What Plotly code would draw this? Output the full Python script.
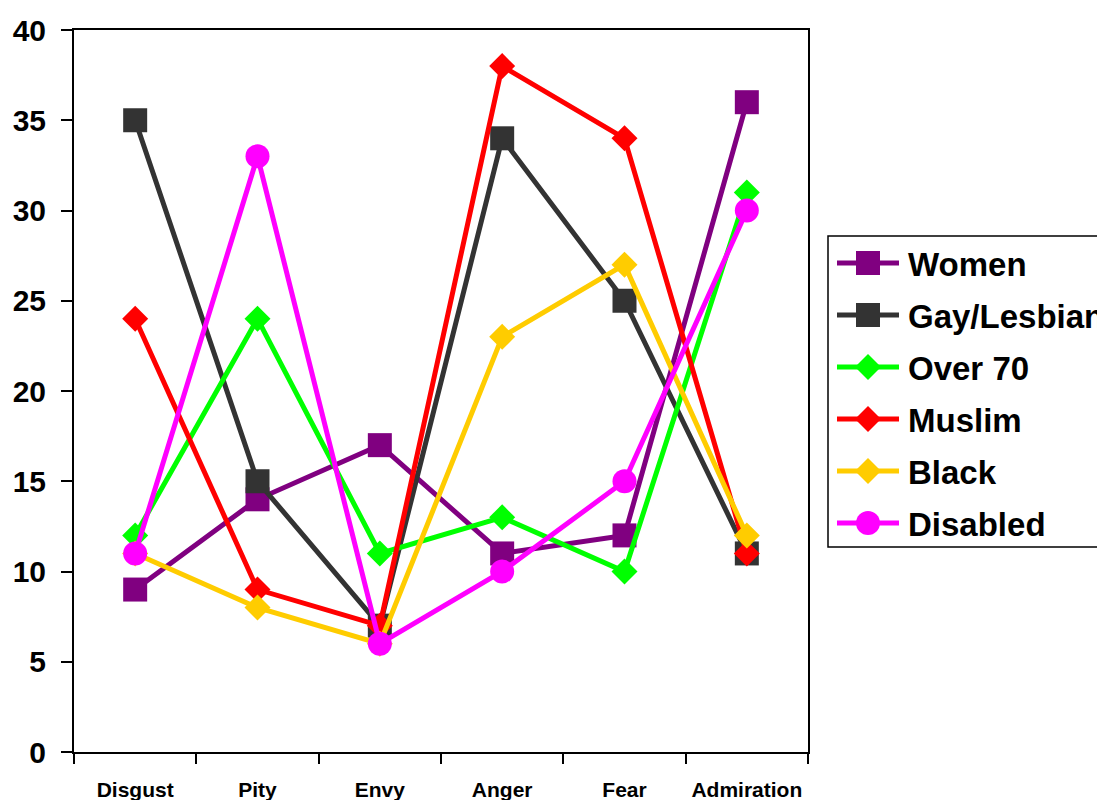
import plotly.graph_objects as go

# Emotion categories on the x axis
emotions = ["Disgust", "Pity", "Envy", "Anger", "Fear", "Admiration"]

# Percentages per group
women = [9, 14, 17, 11, 12, 36]
gay_lesbian = [35, 15, 7, 34, 25, 11]
over_70 = [12, 24, 11, 13, 10, 31]
muslim = [24, 9, 7, 38, 34, 11]
black = [11, 8, 6, 23, 27, 12]
disabled = [11, 33, 6, 10, 15, 30]

y_ticks = [0, 5, 10, 15, 20, 25, 30, 35, 40]

series = [
    ("Women", women, "#800080", "square", 24),
    ("Gay/Lesbian", gay_lesbian, "#333333", "square", 24),
    ("Over 70", over_70, "#00FF00", "diamond", 20),
    ("Muslim", muslim, "#FF0000", "diamond", 20),
    ("Black", black, "#FFCC00", "diamond", 20),
    ("Disabled", disabled, "#FF00FF", "circle", 24),
]

W, H = 1097, 800
FONT = "Arial, Liberation Sans, sans-serif"

# plot frame in pixels
px_left, px_right, px_top, px_bottom = 74, 808, 30, 752

fig = go.Figure()

for name, vals, color, sym, size in series:
    fig.add_trace(go.Scatter(
        x=emotions, y=vals, name=name, mode="lines+markers",
        xaxis="x", yaxis="y",
        line=dict(color=color, width=5),
        marker=dict(symbol=sym, size=size, color=color, line=dict(width=0)),
        cliponaxis=False, showlegend=False,
    ))

# Hand-built legend on a pixel-scaled overlay axis
leg_x0, leg_x1, leg_top, leg_bottom = 828, 1110, 236, 547
sym_x0, sym_x1 = 837, 899
row0, row_gap = 263, 52
for i, (name, vals, color, sym, size) in enumerate(series):
    yy = row0 + i * row_gap
    fig.add_trace(go.Scatter(
        x=[sym_x0, (sym_x0 + sym_x1) / 2, sym_x1], y=[yy, yy, yy],
        mode="lines+markers", xaxis="x2", yaxis="y2",
        line=dict(color=color, width=5),
        marker=dict(symbol=sym, size=size, color=color, opacity=[0, 1, 0],
                    line=dict(width=0)),
        cliponaxis=False, showlegend=False, hoverinfo="skip",
    ))
    fig.add_annotation(
        x=906, y=yy + 1, xref="x2", yref="y2", text="<b>%s</b>" % name,
        showarrow=False, xanchor="left", yanchor="middle",
        font=dict(family=FONT, size=33, color="black"),
    )

fig.add_shape(type="rect", xref="x2", yref="y2",
              x0=leg_x0, x1=leg_x1, y0=leg_top, y1=leg_bottom,
              line=dict(color="black", width=1.5))

fig.update_layout(
    width=W, height=H,
    margin=dict(l=0, r=0, t=0, b=0, autoexpand=False),
    paper_bgcolor="white", plot_bgcolor="rgba(0,0,0,0)",
    showlegend=False,
    xaxis=dict(
        domain=[px_left / W, px_right / W], anchor="y",
        type="category", range=[-0.5, 5.5],
        showline=True, linecolor="black", linewidth=2, mirror=True,
        ticks="outside", tickson="boundaries", ticklen=10, tickwidth=2,
        tickcolor="black", showgrid=False, zeroline=False,
        tickfont=dict(family=FONT, size=21, color="black"),
        ticklabelstandoff=18,
        tickvals=emotions, ticktext=["<b>%s</b>" % e for e in emotions],
    ),
    yaxis=dict(
        domain=[(H - px_bottom) / H, (H - px_top) / H], anchor="x",
        range=[0, 40], tickvals=y_ticks,
        ticktext=["<b>%d</b>" % v for v in y_ticks],
        showline=True, linecolor="black", linewidth=2, mirror=True,
        ticks="outside", ticklen=11, tickwidth=2, tickcolor="black",
        showgrid=False, zeroline=False,
        tickfont=dict(family=FONT, size=30, color="black"),
        ticklabelstandoff=9,
    ),
    xaxis2=dict(domain=[0, 1], range=[0, W], visible=False, anchor="y2"),
    yaxis2=dict(domain=[0, 1], range=[H, 0], visible=False, anchor="x2"),
)

fig.write_html("out.html")
